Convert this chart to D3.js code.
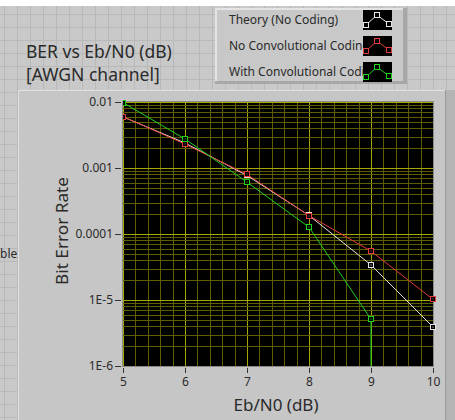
<!DOCTYPE html>
<html>
<head>
<meta charset="utf-8">
<script src="https://cdn.jsdelivr.net/npm/d3@7"></script>
<style>
  body { margin: 0; background: #fff; }
  svg text { font-family: "Noto Sans", "Open Sans", sans-serif; fill: #2a2a2a; }
</style>
</head>
<body>
<div id="chart"></div>
<script>
// chart data
const ebn0 = [5, 6, 7, 8, 9, 10];
const theory = [5.95e-3, 2.39e-3, 7.7e-4, 1.91e-4, 3.4e-5, 3.9e-6];
const noCoding = [6.0e-3, 2.3e-3, 8.0e-4, 1.9e-4, 5.5e-5, 1.02e-5];
const withCoding = [9.8e-3, 2.75e-3, 6.1e-4, 1.27e-4, 5.1e-6, 0];
const seriesNames = ["Theory (No Coding)", "No Convolutional Coding", "With Convolutional Coding"];
const yTickLabels = ["1E-6", "1E-5", "0.0001", "0.001", "0.01"];

(function() {
    const W = 455, H = 420;
    const svg = d3.select("#chart").append("svg")
        .attr("width", W).attr("height", H);

    // front panel background with grid
    svg.append("rect").attr("width", W).attr("height", H).attr("fill", "#fff");
    svg.append("rect").attr("y", 6).attr("width", W).attr("height", H - 6).attr("fill", "#c9c9c9");
    const bg = svg.append("g").attr("stroke", "#b9b9b9").attr("stroke-width", 1);
    for (let x = 4.5; x < W; x += 13) bg.append("line").attr("x1", x).attr("x2", x).attr("y1", 6).attr("y2", H);
    for (let y = 14.5; y < H; y += 13) bg.append("line").attr("x1", 0).attr("x2", W).attr("y1", y).attr("y2", y);

    // clipped label behind the graph
    svg.append("text").attr("x", 0).attr("y", 258).style("font-size", "12px").text("ble");

    // graph panel
    svg.append("rect").attr("x", 18).attr("y", 90).attr("width", 428).attr("height", 340).attr("fill", "#c6c6c6");
    svg.append("rect").attr("x", 446).attr("y", 90).attr("width", 9).attr("height", 340).attr("fill", "#b4b4b4");
    svg.append("line").attr("x1", 18).attr("x2", 446).attr("y1", 90.5).attr("y2", 90.5).attr("stroke", "#e2e2e2");
    svg.append("line").attr("x1", 18.5).attr("x2", 18.5).attr("y1", 90).attr("y2", H).attr("stroke", "#e2e2e2");
    svg.append("line").attr("x1", 445.5).attr("x2", 445.5).attr("y1", 90).attr("y2", H).attr("stroke", "#9a9a9a");

    // title
    svg.append("text").attr("x", 26).attr("y", 58).style("font-size", "17.5px").text("BER vs Eb/N0 (dB)");
    svg.append("text").attr("x", 26).attr("y", 81).style("font-size", "17.5px").text("[AWGN channel]");

    // plot
    const left = 123, right = 433, top = 102, bottom = 366;
    const x = d3.scaleLinear().domain([5, 10]).range([left, right]);
    const y = d3.scaleLog().domain([1e-6, 1e-2]).range([bottom, top]);

    svg.append("rect").attr("x", left).attr("y", top).attr("width", right - left).attr("height", bottom - top)
        .attr("fill", "#000");

    const grid = svg.append("g");
    // minor vertical grid every 0.2
    d3.range(5, 10.001, 0.2).forEach(v => {
        const major = Math.abs(v - Math.round(v)) < 1e-6;
        const px = Math.round(x(v)) + 0.5;
        grid.append("line").attr("x1", px).attr("x2", px).attr("y1", top).attr("y2", bottom)
            .attr("stroke", major ? "#a6a600" : "#5e5e00");
    });
    // horizontal log grid
    y.ticks().forEach(v => {
        const exp = Math.log10(v);
        const major = Math.abs(exp - Math.round(exp)) < 1e-6;
        const py = Math.round(y(v)) + 0.5;
        grid.append("line").attr("x1", left).attr("x2", right).attr("y1", py).attr("y2", py)
            .attr("stroke", major ? "#a6a600" : "#5e5e00");
    });

    svg.append("rect").attr("x", left - 0.5).attr("y", top - 0.5).attr("width", right - left + 1).attr("height", bottom - top + 1)
        .attr("fill", "none").attr("stroke", "#8a8a8a");

    // axes
    const xAxis = d3.axisBottom(x).tickValues(ebn0).tickSize(5).tickPadding(4).tickFormat(d3.format("d"));
    const gx = svg.append("g").attr("transform", `translate(0,${bottom + 2})`).call(xAxis);
    gx.select(".domain").remove();
    gx.selectAll("line").attr("stroke", "#333");
    gx.selectAll("text").style("font-size", "12px").attr("fill", "#2a2a2a");

    const yAxis = d3.axisLeft(y).tickValues([1e-6, 1e-5, 1e-4, 1e-3, 1e-2]).tickSize(6).tickPadding(2)
        .tickFormat((d, i) => yTickLabels[i]);
    const gy = svg.append("g").attr("transform", `translate(${left - 2},0)`).call(yAxis);
    gy.select(".domain").remove();
    gy.selectAll("line").attr("stroke", "#333");
    gy.selectAll("text").style("font-size", "12px").attr("fill", "#2a2a2a");

    svg.append("text").attr("x", 276).attr("y", 411).attr("text-anchor", "middle")
        .style("font-size", "17px").text("Eb/N0 (dB)");
    svg.append("text").attr("transform", "translate(68,231) rotate(-90)").attr("text-anchor", "middle")
        .attr("textLength", 108).attr("lengthAdjust", "spacingAndGlyphs")
        .style("font-size", "17px").text("Bit Error Rate");

    // series
    svg.append("clipPath").attr("id", "plotclip").append("rect")
        .attr("x", left).attr("y", top - 4).attr("width", right - left + 4).attr("height", bottom - top + 4);

    const series = [
        { name: seriesNames[0], values: theory, color: "#e6e6e6" },
        { name: seriesNames[1], values: noCoding, color: "#e23c3c" },
        { name: seriesNames[2], values: withCoding, color: "#1ed21e" }
    ];
    // a zero value has no log: the trace drops straight down from the last point
    const pointsOf = vals => vals.map((v, i) => v > 0
        ? [x(ebn0[i]), y(v)]
        : [x(ebn0[Math.max(i - 1, 0)]), bottom + 20]);
    const line = d3.line();

    const plot = svg.append("g").attr("clip-path", "url(#plotclip)");
    series.forEach(s => {
        plot.append("path").attr("d", line(pointsOf(s.values))).attr("fill", "none")
            .attr("stroke", s.color).attr("stroke-width", 1);
    });
    series.forEach(s => {
        s.values.forEach((v, i) => {
            if (v <= 0) return;
            const cx = Math.round(x(ebn0[i])), cy = Math.round(y(v));
            plot.append("rect").attr("x", cx - 2.5).attr("y", cy - 2.5).attr("width", 5).attr("height", 5)
                .attr("fill", "#000").attr("stroke", s.color);
            plot.append("rect").attr("x", cx - 0.5).attr("y", cy - 0.5).attr("width", 1).attr("height", 1)
                .attr("fill", s.color);
        });
    });

    // legend
    const lg = svg.append("g");
    lg.append("rect").attr("x", 215).attr("y", 8).attr("width", 192).attr("height", 76).attr("fill", "#a8a8a8");
    lg.append("rect").attr("x", 215).attr("y", 8).attr("width", 188).attr("height", 73).attr("fill", "#e4e4e4");
    lg.append("rect").attr("x", 217).attr("y", 10).attr("width", 186).attr("height", 71).attr("fill", "#c8c8c8");

    svg.append("clipPath").attr("id", "legclip").append("rect")
        .attr("x", 217).attr("y", 8).attr("width", 146).attr("height", 76);

    series.forEach((s, i) => {
        const iy = 10 + i * 26;
        lg.append("text").attr("x", 229).attr("y", iy + 14).attr("clip-path", "url(#legclip)")
            .style("font-size", "12px").text(s.name);
        lg.append("rect").attr("x", 363).attr("y", iy).attr("width", 29).attr("height", 20).attr("fill", "#000");
        const pts = [[366, iy + 15], [377, iy + 5], [389, iy + 14]];
        lg.append("path").attr("d", d3.line()([[363, iy + 17], ...pts, [392, iy + 11]]))
            .attr("fill", "none").attr("stroke", s.color);
        pts.forEach(p => {
            lg.append("rect").attr("x", p[0] - 2.5).attr("y", p[1] - 2.5).attr("width", 5).attr("height", 5)
                .attr("fill", "#000").attr("stroke", s.color);
        });
    });
})();
</script>
</body>
</html>
